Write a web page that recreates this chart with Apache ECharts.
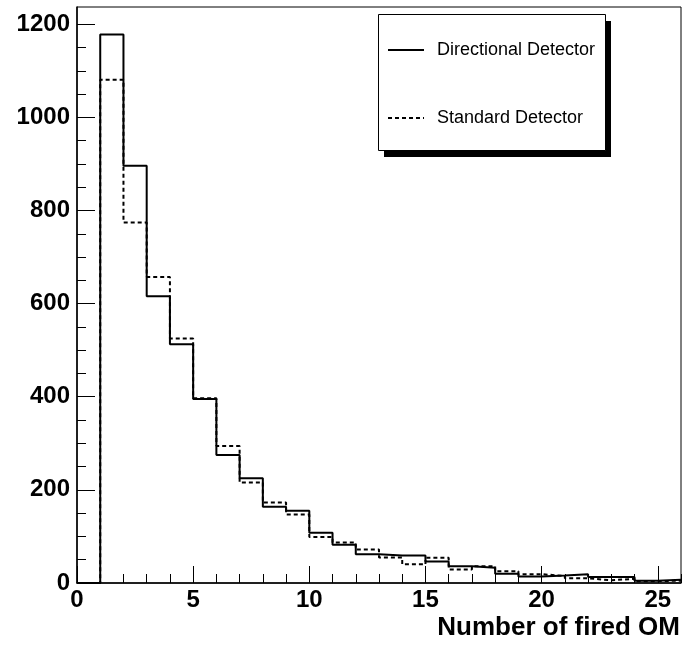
<!DOCTYPE html>
<html>
<head>
<meta charset="utf-8">
<script src="https://cdn.jsdelivr.net/npm/echarts@6/dist/echarts.min.js"></script>
<style>
  html, body { margin: 0; padding: 0; background: #fff; }
  #chart { width: 683px; height: 646px; }
</style>
</head>
<body>
<div id="chart"></div>
<script>
  // contenu des bins 0..25 (bin i = [i, i+1])
  var directional = [0, 1178, 896, 616, 513, 395, 275, 225, 164, 155, 108, 82, 62, 59, 59, 46, 36, 33, 20, 14, 16, 19, 13, 13, 5, 7];
  var standard = [0, 1081, 774, 657, 525, 397, 294, 216, 173, 147, 99, 87, 72, 55, 40, 54, 29, 36, 25, 19, 15, 10, 6, 9, 4, 5];
  var xTicks = [0, 5, 10, 15, 20, 25];
  var xMinor = [0, 1, 2, 3, 4, 5, 6, 7, 8, 9, 10, 11, 12, 13, 14, 15, 16, 17, 18, 19, 20, 21, 22, 23, 24, 25, 26];
  var yTicks = [0, 200, 400, 600, 800, 1000, 1200];
  var yMinor = [0, 50, 100, 150, 200, 250, 300, 350, 400, 450, 500, 550, 600, 650, 700, 750, 800, 850, 900, 950, 1000, 1050, 1100, 1150, 1200];

  var font = '"Liberation Sans", Arial, Helvetica, sans-serif';

  function histo(vals) {
    var pts = [];
    for (var i = 0; i < vals.length; i++) {
      pts.push([i, vals[i]]);
    }
    pts.push([vals.length, vals[vals.length - 1]]);
    return pts;
  }

  var chart = echarts.init(document.getElementById('chart'));
  var option = {
    animation: false,
    grid: {
      left: 77, right: 2, top: 7, bottom: 63,
      show: true, borderColor: '#000', borderWidth: 1, backgroundColor: 'transparent'
    },
    // cadre de la legende avec ombre pleine (style ROOT)
    graphic: [{
      type: 'rect', z: 5,
      shape: { x: 384, y: 21, width: 227, height: 136 },
      style: { fill: '#000' }
    }, {
      type: 'rect', z: 6,
      shape: { x: 378.5, y: 14.5, width: 227, height: 136 },
      style: { fill: '#fff', stroke: '#000', lineWidth: 1 }
    }],
    legend: {
      z: 10,
      orient: 'vertical',
      left: 378, top: 14,
      padding: [27, 12, 26, 9],
      itemGap: 50,
      itemWidth: 36, itemHeight: 14,
      itemStyle: { color: 'transparent', borderColor: 'transparent', borderWidth: 0 },
      textStyle: { fontFamily: font, fontSize: 18, color: '#000', padding: [0, 0, 0, 8] },
      data: ['Directional Detector', 'Standard Detector']
    },
    xAxis: [{
      type: 'value', min: 0, max: 26,
      name: 'Number of fired OM',
      nameLocation: 'end', nameGap: -1,
      nameTextStyle: { fontFamily: font, fontSize: 26, fontWeight: 'bold', color: '#000',
        align: 'right', verticalAlign: 'top', padding: [32, 0, 0, 0] },
      axisLine: { lineStyle: { color: '#000', width: 1.5 } },
      axisTick: { inside: true, length: 17, customValues: xTicks, lineStyle: { color: '#000' } },
      axisLabel: { customValues: xTicks, margin: 5, fontFamily: font, fontSize: 24, fontWeight: 'bold', color: '#000' },
      splitLine: { show: false }
    }, {
      type: 'value', min: 0, max: 26, position: 'bottom',
      axisLine: { show: false },
      axisTick: { inside: true, length: 9, customValues: xMinor, lineStyle: { color: '#000' } },
      axisLabel: { show: false },
      splitLine: { show: false }
    }],
    yAxis: [{
      type: 'value', min: 0, max: 1237,
      axisLine: { show: true, lineStyle: { color: '#000', width: 1.5 } },
      axisTick: { show: true, inside: true, length: 18, customValues: yTicks, lineStyle: { color: '#000' } },
      axisLabel: { customValues: yTicks, margin: 7, fontFamily: font, fontSize: 24, fontWeight: 'bold', color: '#000',
        formatter: function (v) { return String(v); } },
      splitLine: { show: false }
    }, {
      type: 'value', min: 0, max: 1237, position: 'left',
      axisLine: { show: false },
      axisTick: { show: true, inside: true, length: 9, customValues: yMinor, lineStyle: { color: '#000' } },
      axisLabel: { show: false },
      splitLine: { show: false }
    }],
    series: [{
      name: 'Standard Detector',
      type: 'line', step: 'end', symbol: 'none',
      data: histo(standard),
      lineStyle: { color: '#000', width: 2, type: [4, 3] },
      itemStyle: { color: '#000' }
    }, {
      name: 'Directional Detector',
      type: 'line', step: 'end', symbol: 'none',
      data: histo(directional),
      lineStyle: { color: '#000', width: 2 },
      itemStyle: { color: '#000' }
    }]
  };
  chart.setOption(option);
</script>
</body>
</html>
